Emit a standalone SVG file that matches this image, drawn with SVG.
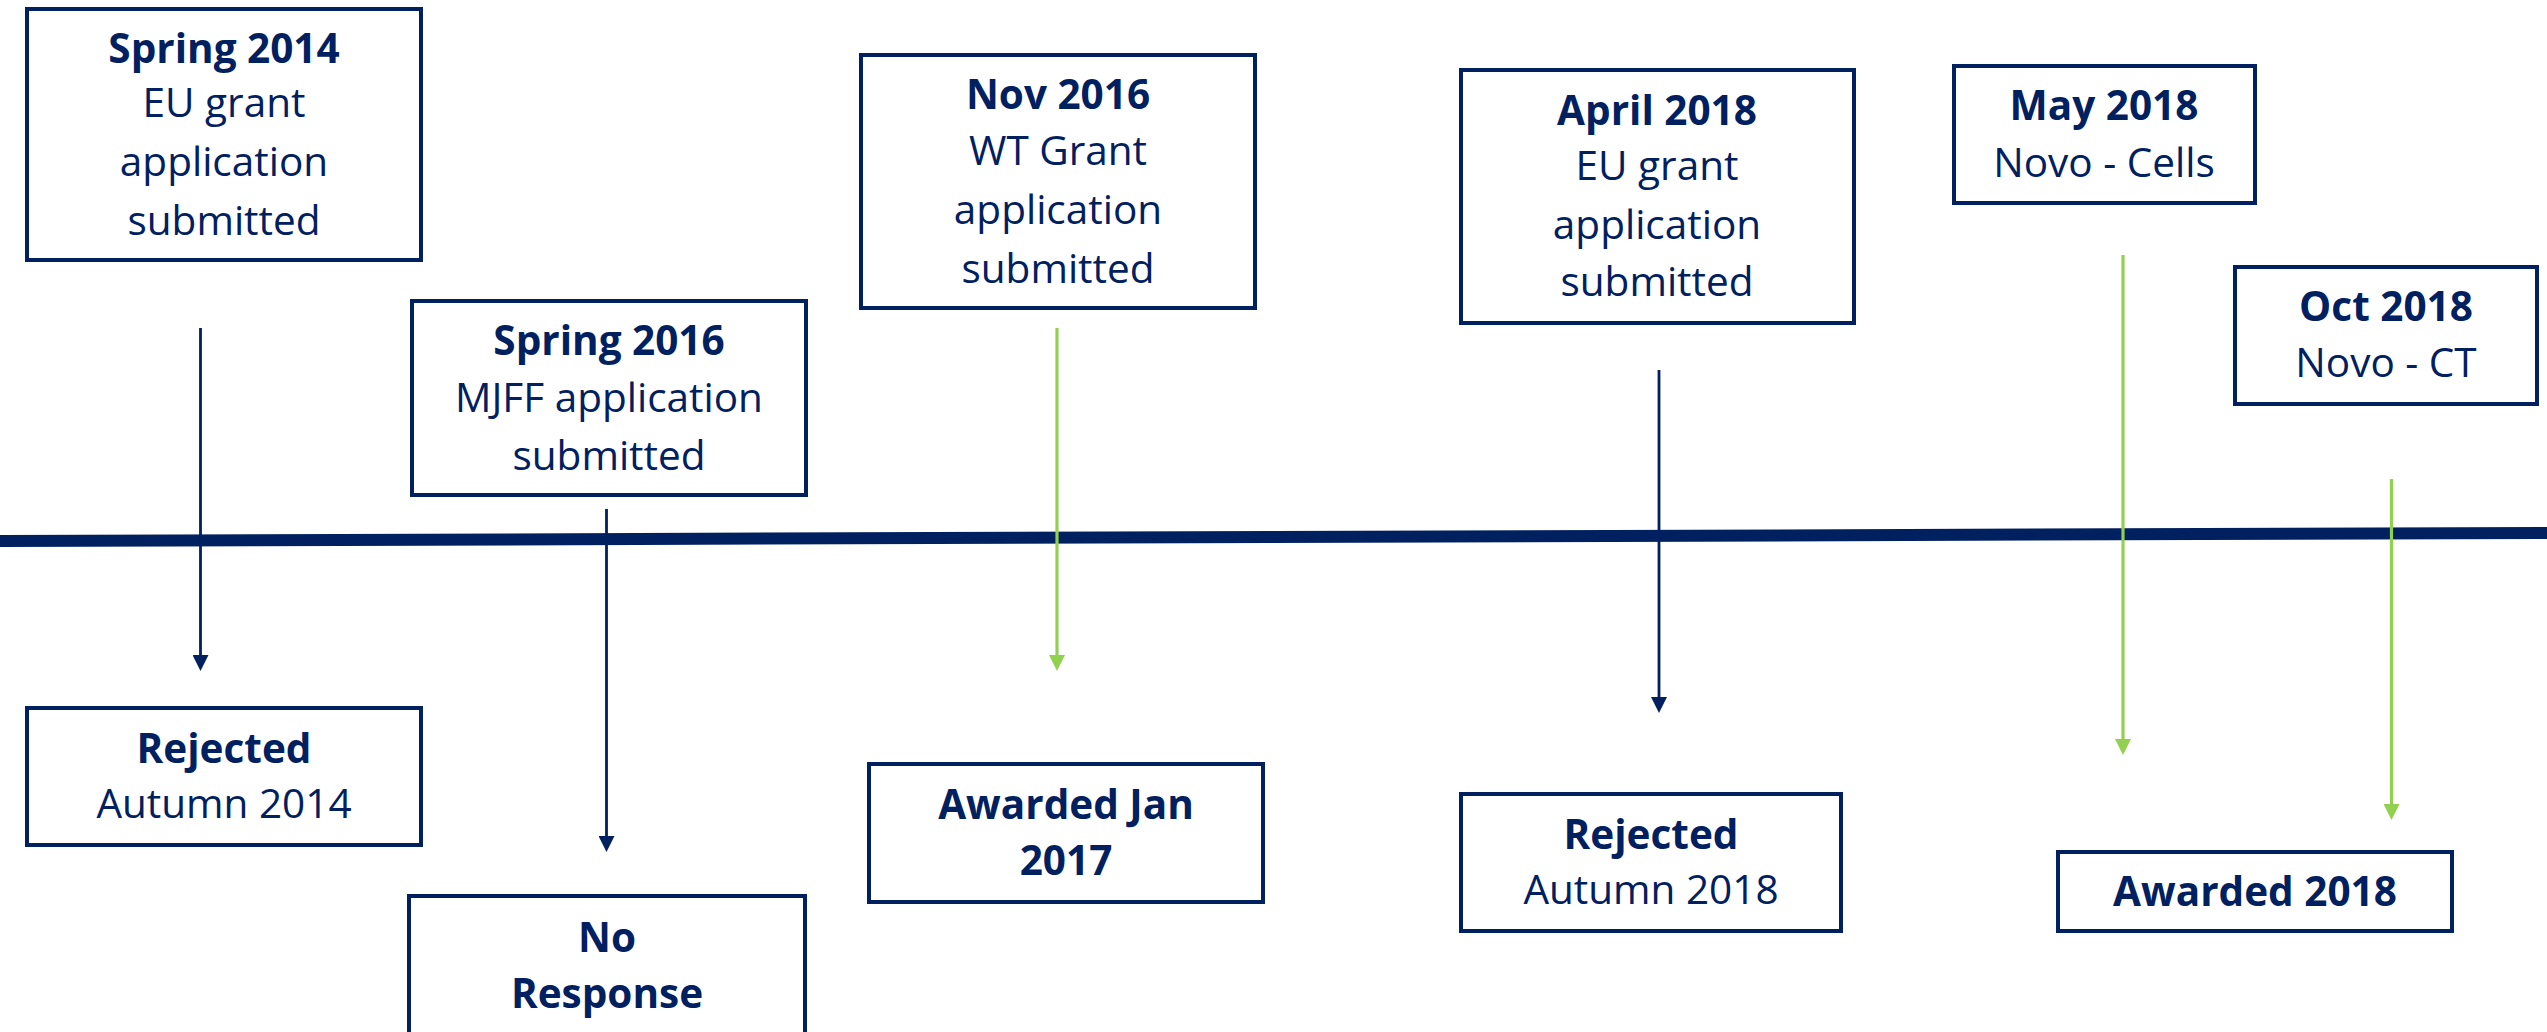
<svg xmlns="http://www.w3.org/2000/svg" width="2547" height="1032" viewBox="0 0 2547 1032">
  <style>
    .box { fill: #ffffff; stroke: #002060; stroke-width: 4; }
    .t { font-family: "Open Sans", "Liberation Sans", sans-serif; font-size: 40.5px; fill: #002060; text-anchor: middle; }
    .b { font-weight: 700; }
    .axis { stroke: #002060; stroke-width: 12; fill: none; }
    .nav { stroke: #002060; stroke-width: 2.8; fill: none; marker-end: url(#headNavy); }
    .grn { stroke: #92D050; stroke-width: 3.2; fill: none; marker-end: url(#headGreen); }
  </style>
  <defs>
    <marker id="headNavy" markerUnits="userSpaceOnUse" markerWidth="16" markerHeight="16" refX="8" refY="8" orient="auto">
      <path d="M0,0 L16,8 L0,16 Z" fill="#002060"/>
    </marker>
    <marker id="headGreen" markerUnits="userSpaceOnUse" markerWidth="16" markerHeight="16" refX="8" refY="8" orient="auto">
      <path d="M0,0 L16,8 L0,16 Z" fill="#92D050"/>
    </marker>
  </defs>

  <rect width="2547" height="1032" fill="#ffffff"/>

  <!-- time axis -->
  <g id="timeline">
    <line class="axis" x1="0" y1="541" x2="2547" y2="533"/>
  </g>

  <!-- outcome arrows, drawn over the axis -->
  <g id="connectors">
    <line class="nav" x1="200.5" y1="328" x2="200.5" y2="663"/>
    <line class="nav" x1="606.5" y1="509" x2="606.5" y2="844"/>
    <line class="grn" x1="1057" y1="328" x2="1057" y2="663"/>
    <line class="nav" x1="1659" y1="370" x2="1659" y2="705"/>
    <line class="grn" x1="2123" y1="255" x2="2123" y2="747"/>
    <line class="grn" x1="2391.5" y1="479" x2="2391.5" y2="812"/>
  </g>

  <g id="spring2014">
    <rect class="box" x="27" y="9" width="394" height="251"/>
    <text class="t b" x="224" y="63">Spring 2014</text>
    <text class="t" x="224" y="117">EU grant</text>
    <text class="t" x="224" y="176">application</text>
    <text class="t" x="224" y="235">submitted</text>
  </g>

  <g id="spring2016">
    <rect class="box" x="412" y="301" width="394" height="194"/>
    <text class="t b" x="609" y="355">Spring 2016</text>
    <text class="t" x="609" y="412">MJFF application</text>
    <text class="t" x="609" y="470">submitted</text>
  </g>

  <g id="nov2016">
    <rect class="box" x="861" y="55" width="394" height="253"/>
    <text class="t b" x="1058" y="109">Nov 2016</text>
    <text class="t" x="1058" y="165">WT Grant</text>
    <text class="t" x="1058" y="224">application</text>
    <text class="t" x="1058" y="283">submitted</text>
  </g>

  <g id="april2018">
    <rect class="box" x="1461" y="70" width="393" height="253"/>
    <text class="t b" x="1657" y="125">April 2018</text>
    <text class="t" x="1657" y="180">EU grant</text>
    <text class="t" x="1657" y="239">application</text>
    <text class="t" x="1657" y="296">submitted</text>
  </g>

  <g id="may2018">
    <rect class="box" x="1954" y="66" width="301" height="137"/>
    <text class="t b" x="2104" y="120">May 2018</text>
    <text class="t" x="2104" y="177">Novo - Cells</text>
  </g>

  <g id="oct2018">
    <rect class="box" x="2235" y="267" width="302" height="137"/>
    <text class="t b" x="2386" y="321">Oct 2018</text>
    <text class="t" x="2386" y="377">Novo - CT</text>
  </g>

  <g id="rejected2014">
    <rect class="box" x="27" y="708" width="394" height="137"/>
    <text class="t b" x="224" y="763">Rejected</text>
    <text class="t" x="224" y="818">Autumn 2014</text>
  </g>

  <g id="noResponse">
    <rect class="box" x="409" y="896" width="396" height="150"/>
    <text class="t b" x="607" y="952">No</text>
    <text class="t b" x="607" y="1008">Response</text>
  </g>

  <g id="awardedJan2017">
    <rect class="box" x="869" y="764" width="394" height="138"/>
    <text class="t b" x="1066" y="819">Awarded Jan</text>
    <text class="t b" x="1066" y="875">2017</text>
  </g>

  <g id="rejected2018">
    <rect class="box" x="1461" y="794" width="380" height="137"/>
    <text class="t b" x="1651" y="849">Rejected</text>
    <text class="t" x="1651" y="904">Autumn 2018</text>
  </g>

  <g id="awarded2018">
    <rect class="box" x="2058" y="852" width="394" height="79"/>
    <text class="t b" x="2255" y="906">Awarded 2018</text>
  </g>
</svg>
